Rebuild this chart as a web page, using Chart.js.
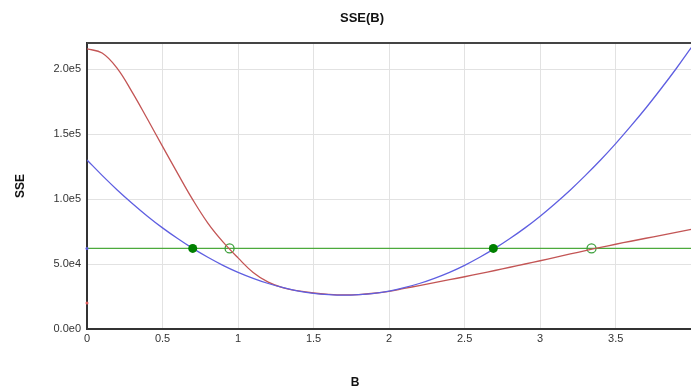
<!DOCTYPE html>
<html>
<head>
<meta charset="utf-8">
<script src="https://cdn.jsdelivr.net/npm/chart.js@4"></script>
<style>
  html, body { margin: 0; padding: 0; background: #fff; overflow: hidden; }
  body { width: 691px; height: 389px; }
  #wrap { width: 697px; height: 389px; position: relative; }
</style>
</head>
<body>
<div id="wrap"><canvas id="sse-chart"></canvas></div>
<script>
// B values (x axis)
const bValues = [0, 0.1, 0.2, 0.3, 0.4, 0.5, 0.6, 0.7, 0.8, 0.9, 1.0,
                 1.1, 1.2, 1.3, 1.4, 1.5, 1.6, 1.7, 1.8, 1.9, 2.0,
                 2.1, 2.2, 2.3, 2.4, 2.5, 2.6, 2.7, 2.8, 2.9, 3.0,
                 3.1, 3.2, 3.3, 3.4, 3.5, 3.6, 3.7, 3.8, 3.9, 4.0];

// blue curve
const sseBlue = [130000, 118200, 107000, 96600, 86800, 77800, 69600, 62000, 55200, 49000, 43600,
                 39000, 35000, 31800, 29200, 27400, 26400, 26000, 26400, 27400, 29200,
                 31800, 35000, 39000, 43600, 49000, 55200, 62000, 69600, 77800, 86800,
                 96600, 107000, 118200, 130000, 142600, 156000, 170000, 184800, 200200, 216400];

// red curve
const sseRed = [215500, 212300, 200500, 182000, 161500, 140500, 119700, 99500, 81500, 67000, 54700,
                43500, 36000, 31600, 29300, 27700, 26700, 26200, 26500, 27500, 29000,
                31200, 33400, 35600, 37900, 40200, 42600, 45000, 47500, 50000, 52500,
                55100, 57700, 60300, 62800, 65200, 67500, 69800, 72100, 74400, 76600];

// threshold line and crossings
const threshold = 62000;
const thresholdX = [0, 4];
const blueCrossings = [0.70, 2.69];
const redCrossings = [0.944, 3.34];

// little markers on the y axis
const axisMarkBlue = 62000;
const axisMarkRed = 20000;

// tick values
const yTickValues = [0, 50000, 100000, 150000, 200000];
const xTickValues = [0, 0.5, 1, 1.5, 2, 2.5, 3, 3.5];

const toPoints = (xs, ys) => xs.map((x, i) => ({ x: x, y: ys[i] }));

const textPlugin = {
  id: 'textPlugin',
  afterDraw(chart) {
    const ctx = chart.ctx;
    const area = chart.chartArea;
    ctx.save();
    // top frame line
    ctx.strokeStyle = '#444';
    ctx.lineWidth = 2;
    ctx.beginPath();
    ctx.moveTo(area.left, area.top);
    ctx.lineTo(area.right, area.top);
    ctx.stroke();

    ctx.fillStyle = '#111';
    ctx.font = 'bold 13px "Liberation Sans", Arial, sans-serif';
    ctx.textAlign = 'center';
    ctx.textBaseline = 'middle';
    ctx.fillText('SSE(B)', 362, 18);
    ctx.font = 'bold 12px "Liberation Sans", Arial, sans-serif';
    ctx.fillText('B', 355, 383);
    ctx.translate(21, 186);
    ctx.rotate(-Math.PI / 2);
    ctx.fillText('SSE', 0, 0);
    ctx.restore();
  }
};

new Chart(document.querySelector('#sse-chart'), {
  type: 'scatter',
  data: {
    datasets: [
      {
        label: 'threshold',
        data: toPoints(thresholdX, [threshold, threshold]),
        showLine: true,
        borderColor: 'rgb(76, 170, 60)',
        borderWidth: 1.3,
        pointRadius: 0,
        order: 5
      },
      {
        label: 'red crossings',
        data: redCrossings.map(x => ({ x: x, y: threshold })),
        pointRadius: 4.5,
        pointBorderWidth: 1.3,
        pointBorderColor: 'rgb(60, 160, 60)',
        pointBackgroundColor: 'rgba(255,255,255,0)',
        order: 4
      },
      {
        label: 'red',
        data: toPoints(bValues, sseRed),
        showLine: true,
        borderColor: 'rgb(195, 85, 85)',
        borderWidth: 1.3,
        pointRadius: 0,
        tension: 0.4,
        order: 3
      },
      {
        label: 'blue',
        data: toPoints(bValues, sseBlue),
        showLine: true,
        borderColor: 'rgb(95, 95, 225)',
        borderWidth: 1.3,
        pointRadius: 0,
        tension: 0.4,
        order: 2
      },
      {
        label: 'blue crossings',
        data: blueCrossings.map(x => ({ x: x, y: threshold })),
        pointRadius: 4.5,
        pointBorderWidth: 0,
        pointBackgroundColor: 'rgb(0, 128, 0)',
        order: 1
      },
      {
        label: 'axis marks',
        data: [{ x: 0, y: axisMarkBlue }, { x: 0, y: axisMarkRed }],
        pointRadius: 1.5,
        pointBorderWidth: 0,
        pointBackgroundColor: ['rgb(90, 90, 220)', 'rgb(220, 90, 90)'],
        clip: false,
        order: 0
      }
    ]
  },
  options: {
    responsive: true,
    maintainAspectRatio: false,
    animation: false,
    layout: {
      padding: { top: 43, right: 0, bottom: 0, left: 0 }
    },
    plugins: {
      legend: { display: false },
      tooltip: { enabled: false },
      title: { display: false }
    },
    scales: {
      x: {
        type: 'linear',
        min: 0,
        max: 4,
        afterBuildTicks: function(scale) {
          scale.ticks = xTickValues.map(v => ({ value: v }));
        },
        afterFit: function(scale) {
          scale.height = 60;
        },
        ticks: {
          padding: 3,
          color: '#333',
          font: { size: 11, family: '"Liberation Sans", Arial, sans-serif' },
          maxRotation: 0,
          autoSkip: false,
          callback: function(value) { return String(value); }
        },
        grid: { color: '#e2e2e2', lineWidth: 1, drawTicks: false },
        border: { color: '#333', width: 2 }
      },
      y: {
        type: 'linear',
        min: 0,
        max: 220000,
        afterBuildTicks: function(scale) {
          scale.ticks = yTickValues.map(v => ({ value: v }));
        },
        afterFit: function(scale) { scale.width = 87; },
        ticks: {
          padding: 6,
          color: '#333',
          autoSkip: false,
          font: { size: 11, family: '"Liberation Sans", Arial, sans-serif' },
          callback: function(value) {
            return Number(value).toExponential(1).replace('+', '');
          }
        },
        grid: { color: '#e2e2e2', lineWidth: 1, drawTicks: false },
        border: { color: '#333', width: 2 }
      }
    }
  },
  plugins: [textPlugin]
});
</script>
</body>
</html>
